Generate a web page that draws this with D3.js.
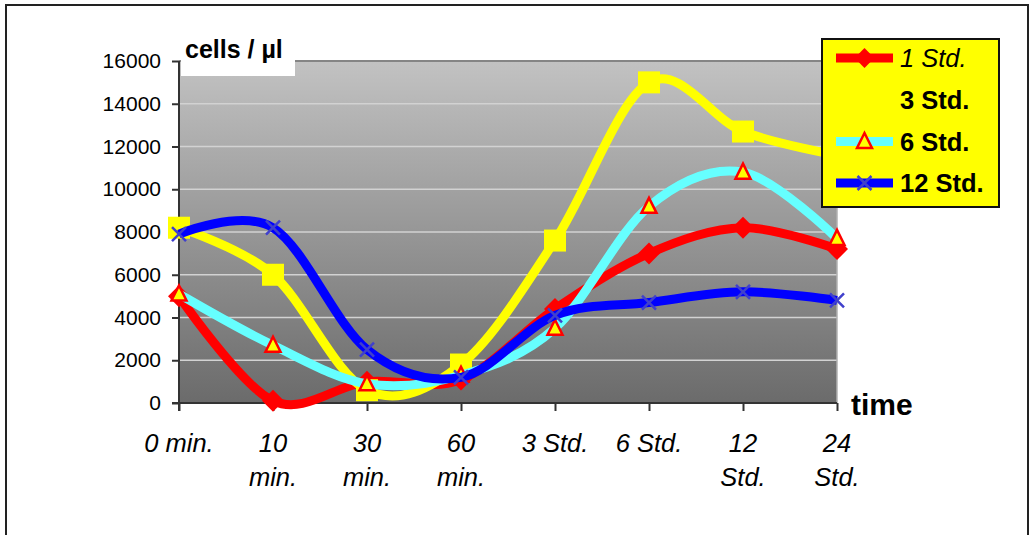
<!DOCTYPE html>
<html><head><meta charset="utf-8">
<script src="https://cdn.jsdelivr.net/npm/d3@7"></script>
<style>
html,body{margin:0;padding:0;background:#fff;}
text{font-family:"Liberation Sans",Arial,sans-serif;}
</style></head>
<body><svg id="c" width="1030" height="535"></svg>
<script>
const categories = ["0 min.", "10 min.", "30 min.", "60 min.", "3 Std.", "6 Std.", "12 Std.", "24 Std."];
const categoryLines = [["0 min."], ["10", "min."], ["30", "min."], ["60", "min."], ["3 Std."], ["6 Std."], ["12", "Std."], ["24", "Std."]];
const seriesNames = ["1 Std.", "3 Std.", "6 Std.", "12 Std."];
const std1 = [5000, 100, 1000, 1100, 4400, 7000, 8200, 7200];
const std3 = [8200, 6000, 600, 1800, 7600, 15000, 12700, 11600];
const std6 = [5100, 2700, 900, 1300, 3500, 9200, 10800, 7700];
const std12 = [7900, 8200, 2500, 1200, 4100, 4700, 5200, 4800];
const yTicks = [0, 2000, 4000, 6000, 8000, 10000, 12000, 14000, 16000];
const yTitle = "cells / µl";
const xTitle = "time";

const svg = d3.select("#c");
const L = 179, R = 837, T = 61, B = 403;
const x = d3.scalePoint().domain(categories).range([L, R]);
const y = d3.scaleLinear().domain([0, 16000]).range([B, T]);

svg.append("rect").attr("x", 6).attr("y", 5).attr("width", 1022).attr("height", 540)
  .attr("fill", "#fff").attr("stroke", "#222").attr("stroke-width", 2);

const defs = svg.append("defs");
const g = defs.append("linearGradient").attr("id", "bg").attr("x1", 0).attr("y1", 0).attr("x2", 0).attr("y2", 1);
g.append("stop").attr("offset", "0%").attr("stop-color", "#c2c2c2");
g.append("stop").attr("offset", "100%").attr("stop-color", "#6b6b6b");

svg.append("rect").attr("x", L).attr("y", T).attr("width", R - L).attr("height", B - T).attr("fill", "url(#bg)");

svg.append("g").selectAll("line").data(yTicks.filter(d => d > 0 && d < 16000)).join("line")
  .attr("x1", L).attr("x2", R).attr("y1", d => y(d)).attr("y2", d => y(d))
  .attr("stroke", "#d2d2d2").attr("stroke-width", 1.5);
svg.append("line").attr("x1", L).attr("x2", R).attr("y1", T).attr("y2", T).attr("stroke", "#858585").attr("stroke-width", 2);
svg.append("line").attr("x1", R).attr("x2", R).attr("y1", T).attr("y2", B).attr("stroke", "#b0b0b0").attr("stroke-width", 1.5);

svg.append("rect").attr("x", 181).attr("y", 36).attr("width", 114).attr("height", 40).attr("fill", "#fff");

const yAxis = d3.axisLeft(y).tickValues(yTicks).tickSize(7).tickPadding(11).tickFormat(d3.format("d"));
const ya = svg.append("g").attr("transform", `translate(${L},0)`).call(yAxis);
ya.select(".domain").remove();
ya.selectAll(".tick line").attr("stroke", "#333").attr("stroke-width", 2);
ya.selectAll(".tick text").attr("font-size", 21).attr("fill", "#000").attr("font-family", "Liberation Sans, Arial, sans-serif");

const xAxis = d3.axisBottom(x).tickSize(8).tickFormat("");
const xa = svg.append("g").attr("transform", `translate(0,${B})`).call(xAxis);
xa.select(".domain").remove();
xa.selectAll(".tick line").attr("stroke", "#333").attr("stroke-width", 2);

svg.append("line").attr("x1", L).attr("x2", L).attr("y1", T).attr("y2", B + 8).attr("stroke", "#333").attr("stroke-width", 2);
svg.append("line").attr("x1", L - 7).attr("x2", R).attr("y1", B).attr("y2", B).attr("stroke", "#333").attr("stroke-width", 2);

categories.forEach((c, i) => {
  const t = svg.append("text").attr("x", x(c)).attr("text-anchor", "middle")
    .attr("font-size", 25.5).attr("font-style", "italic").attr("fill", "#000");
  categoryLines[i].forEach((ln, j) => {
    t.append("tspan").attr("x", x(c)).attr("y", 452 + j * 34).text(ln);
  });
});

svg.append("text").attr("x", 185).attr("y", 58).attr("font-size", 25).attr("font-weight", "bold").text(yTitle);
svg.append("text").attr("x", 851).attr("y", 415).attr("font-size", 30).attr("font-weight", "bold").text(xTitle);

const series = [
  {name: seriesNames[0], vals: std1, color: "#ff0000", marker: "diamond"},
  {name: seriesNames[1], vals: std3, color: "#ffff00", marker: "square"},
  {name: seriesNames[2], vals: std6, color: "#66ffff", marker: "triangle"},
  {name: seriesNames[3], vals: std12, color: "#0000ff", marker: "x"}
];
const line = d3.line().x((d, i) => x(categories[i])).y(d => y(d)).curve(d3.curveCardinal.tension(0));

function drawMarker(sel, type, cx, cy, k) {
  k = k || 1;
  if (type === "diamond") {
    const s = 11 * k;
    sel.append("path").attr("d", `M${cx},${cy - s}L${cx + s},${cy}L${cx},${cy + s}L${cx - s},${cy}Z`).attr("fill", "#ff0000");
  } else if (type === "square") {
    const s = 11 * k;
    sel.append("rect").attr("x", cx - s).attr("y", cy - s).attr("width", 2 * s).attr("height", 2 * s).attr("fill", "#ffff00");
  } else if (type === "triangle") {
    const s = 7.5;
    sel.append("path").attr("d", `M${cx},${cy - s - 1}L${cx + s},${cy + s - 1}L${cx - s},${cy + s - 1}Z`)
      .attr("fill", "#ffff00").attr("stroke", "#ff0000").attr("stroke-width", 2.5).attr("stroke-linejoin", "miter");
  } else if (type === "x") {
    const s = 7;
    sel.append("path").attr("d", `M${cx - s},${cy - s}L${cx + s},${cy + s}M${cx - s},${cy + s}L${cx + s},${cy - s}`)
      .attr("stroke", "#4040cc").attr("stroke-width", 2.5).attr("fill", "none");
  }
}

const plot = svg.append("g");
series.forEach(s => {
  plot.append("path").datum(s.vals).attr("d", line).attr("fill", "none")
    .attr("stroke", s.color).attr("stroke-width", 9).attr("stroke-linejoin", "round");
  s.vals.forEach((v, i) => drawMarker(plot, s.marker, x(categories[i]), y(v)));
});

const lg = svg.append("g");
lg.append("rect").attr("x", 822).attr("y", 39).attr("width", 177).attr("height", 168)
  .attr("fill", "#ffff00").attr("stroke", "#111").attr("stroke-width", 2);
const legY = [58, 100, 141.5, 183];
series.forEach((s, i) => {
  const cy = legY[i];
  lg.append("line").attr("x1", 836).attr("x2", 893).attr("y1", cy).attr("y2", cy)
    .attr("stroke", s.color).attr("stroke-width", 9);
  drawMarker(lg, s.marker, 864.5, cy, 0.9);
  lg.append("text").attr("x", 900).attr("y", cy + 9).attr("font-size", 25.5)
    .attr("font-style", i === 0 ? "italic" : "normal").attr("font-weight", i === 0 ? "normal" : "bold")
    .attr("fill", "#000").text(s.name);
});
</script></body></html>
